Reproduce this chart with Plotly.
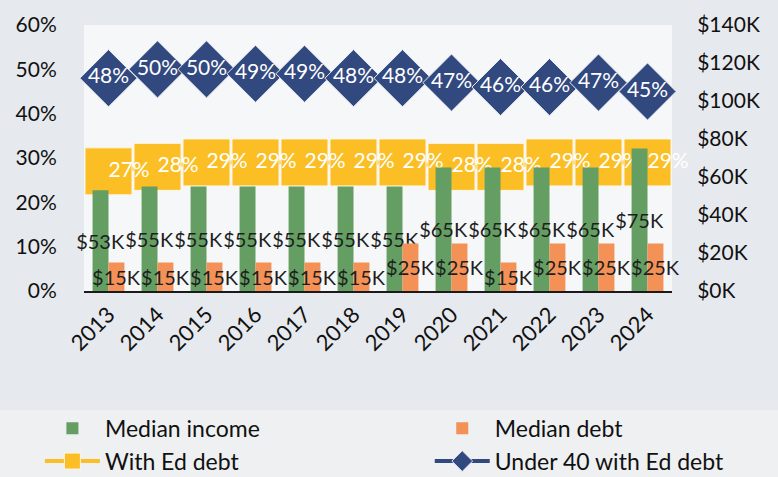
import plotly.graph_objects as go

years = ["2013", "2014", "2015", "2016", "2017", "2018", "2019", "2020", "2021", "2022", "2023", "2024"]
median_income = [53000, 55000, 55000, 55000, 55000, 55000, 55000, 65000, 65000, 65000, 65000, 75000]
median_debt = [15000, 15000, 15000, 15000, 15000, 15000, 25000, 25000, 15000, 25000, 25000, 25000]
with_ed_debt = [0.27, 0.28, 0.29, 0.29, 0.29, 0.29, 0.29, 0.28, 0.28, 0.29, 0.29, 0.29]
under40_ed_debt = [0.48, 0.50, 0.50, 0.49, 0.49, 0.48, 0.48, 0.47, 0.46, 0.46, 0.47, 0.45]

left_ticks = [0, 0.1, 0.2, 0.3, 0.4, 0.5, 0.6]
right_ticks = [0, 20000, 40000, 60000, 80000, 100000, 120000, 140000]

FONT = "Lato, Open Sans, sans-serif"
GREEN = "#649e62"
ORANGE = "#f39157"
YELLOW = "#fbbf25"
NAVY = "#31497f"
TXT = "#1e1e1e"

def kfmt(v):
    return "${}K".format(int(round(v / 1000)))

def pct(v):
    return "{:.0f}%".format(v * 100)

fig = go.Figure()

fig.add_trace(go.Bar(
    x=years, y=median_income, name="Median income", yaxis="y2",
    legend="legend", legendgroup="a", cliponaxis=False,
    marker=dict(color=GREEN, line=dict(width=0)),
    text=[kfmt(v) for v in median_income], textposition="inside",
    insidetextanchor="middle", textangle=0, constraintext="none",
    textfont=dict(family=FONT, size=20, color=TXT),
))
fig.add_trace(go.Bar(
    x=years, y=median_debt, name="Median debt", yaxis="y2",
    legend="legend2", legendgroup="b", cliponaxis=False,
    marker=dict(color=ORANGE, line=dict(width=0)),
    text=[kfmt(v) for v in median_debt], textposition="inside",
    insidetextanchor="middle", textangle=0, constraintext="none",
    textfont=dict(family=FONT, size=20, color=TXT),
))
fig.add_trace(go.Scatter(
    x=years, y=with_ed_debt, name="With Ed debt", yaxis="y",
    legend="legend", legendgroup="c", cliponaxis=False,
    mode="lines+markers",
    line=dict(color=YELLOW, width=4),
    marker=dict(symbol="square", size=47, color=YELLOW, line=dict(color="#fdf6e6", width=1)),
))
fig.add_trace(go.Scatter(
    x=years, y=with_ed_debt, yaxis="y", showlegend=False, cliponaxis=False,
    mode="text", text=[pct(v) for v in with_ed_debt],
    textposition="middle right",
    textfont=dict(family=FONT, size=21, color="white"),
    hoverinfo="skip",
))
fig.add_trace(go.Scatter(
    x=years, y=under40_ed_debt, name="Under 40 with Ed debt", yaxis="y",
    legend="legend2", legendgroup="d", cliponaxis=False,
    mode="lines+markers+text",
    line=dict(color=NAVY, width=4),
    marker=dict(symbol="diamond", size=44, color=NAVY, line=dict(color="#e8ecf3", width=1)),
    text=[pct(v) for v in under40_ed_debt],
    textposition="middle center",
    textfont=dict(family=FONT, size=21, color="white"),
))

legend_common = dict(
    orientation="v", yanchor="top", xanchor="left", y=-0.435,
    font=dict(family=FONT, size=23, color="#111111"),
    itemwidth=55, bgcolor="rgba(0,0,0,0)", traceorder="normal",
    tracegroupgap=4,
)

fig.update_layout(
    width=778, height=477,
    margin=dict(l=84, r=106, t=25, b=186, autoexpand=False),
    paper_bgcolor="#e6e9ed",
    plot_bgcolor="#f6f7f8",
    barmode="group", bargap=0.35, bargroupgap=0,
    font=dict(family=FONT, color="#111111"),
    showlegend=True,
    legend=dict(legend_common, x=-0.075),
    legend2=dict(legend_common, x=0.588),
    xaxis=dict(
        type="category", range=[-0.5, 11.5], tickangle=-45, showgrid=False,
        showline=True, linecolor="#1a1a1a", linewidth=2,
        ticks="", tickfont=dict(family=FONT, size=22, color="#111111"),
    ),
    yaxis=dict(
        range=[0, 0.6], tickvals=left_ticks, tickformat=".0%",
        showgrid=False, zeroline=False, showline=False,
        ticks="outside", ticklen=22, tickcolor="rgba(0,0,0,0)",
        tickfont=dict(family=FONT, size=21, color="#111111"),
    ),
    yaxis2=dict(
        range=[0, 140000], tickvals=right_ticks,
        ticktext=[kfmt(v) for v in right_ticks],
        overlaying="y", side="right",
        showgrid=False, zeroline=False, showline=False,
        ticks="outside", ticklen=20, tickcolor="rgba(0,0,0,0)",
        tickfont=dict(family=FONT, size=21, color="#111111"),
    ),
    shapes=[dict(type="rect", xref="paper", yref="paper", x0=-0.2, x1=1.3,
                 y0=-0.447, y1=-0.8, fillcolor="#eef0f2", line=dict(width=0), layer="below")],
)

fig.write_html("out.html", config={"displayModeBar": False},
               post_script="document.body.style.margin='0px';")
